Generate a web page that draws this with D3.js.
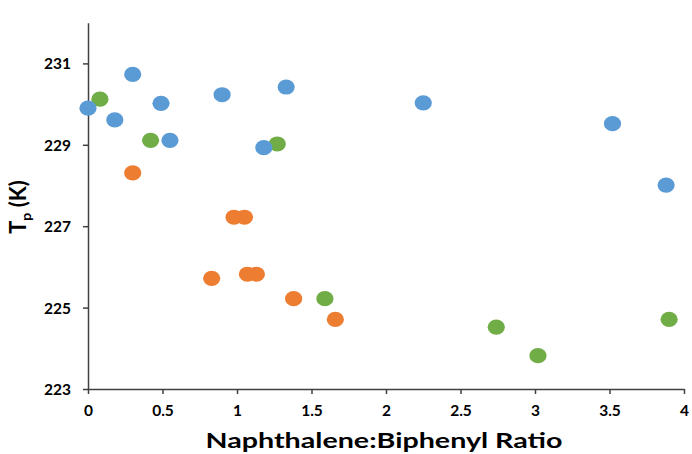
<!DOCTYPE html>
<html>
<head>
<meta charset="utf-8">
<script src="https://cdn.jsdelivr.net/npm/d3@7"></script>
<style>
  html, body { margin: 0; padding: 0; background: #fff; }
  svg { display: block; }
</style>
</head>
<body>
<svg id="chart" width="692" height="454"></svg>
<script>

//--------------------------------------
// DATA
//--------------------------------------

var blueX   = [0, 0.18, 0.30, 0.49, 0.55, 0.90, 1.18, 1.33, 2.25, 3.52, 3.88];
var blueY   = [229.9, 229.61, 230.73, 230.02, 229.11, 230.23, 228.93, 230.42, 230.03, 229.52, 228.01];

var orangeX = [0.30, 0.98, 1.05, 0.83, 1.07, 1.13, 1.38, 1.66];
var orangeY = [228.31, 227.22, 227.22, 225.72, 225.82, 225.82, 225.22, 224.71];

var greenX  = [0.08, 0.42, 1.27, 1.59, 2.74, 3.02, 3.90];
var greenY  = [230.12, 229.11, 229.02, 225.22, 224.52, 223.82, 224.71];

var xTicks = [0, 0.5, 1, 1.5, 2, 2.5, 3, 3.5, 4];
var yTicks = [223, 225, 227, 229, 231];

var xTitle = "Naphthalene:Biphenyl Ratio";


//--------------------------------------
// SETUP
//--------------------------------------

var svg = d3.select("#chart");
var fontFamily = "Lato, 'Liberation Sans', Arial, sans-serif";
var axisColour = "#404040";

var x = d3.scaleLinear().domain([0, 4]).range([88, 684]);
var y = d3.scaleLinear().domain([223, 232]).range([389, 22.7]);

// draw order: green, orange, then blue on top
var series = [
  { xs: greenX,  ys: greenY,  colour: "#70AD47" },
  { xs: orangeX, ys: orangeY, colour: "#ED7D31" },
  { xs: blueX,   ys: blueY,   colour: "#5B9BD5" }
];


_drawAxes();
_drawPoints();
_drawTitles();



function _drawAxes() {

  var xAxis = d3.axisBottom(x).tickValues(xTicks).tickSize(5).tickSizeOuter(0)
    .tickFormat(function(d){ return String(d); });

  var yAxis = d3.axisLeft(y).tickValues(yTicks).tickSize(5).tickSizeOuter(0)
    .tickFormat(d3.format("d"));

  var gx = svg.append("g").attr("transform", "translate(0," + y(223) + ")").call(xAxis);
  var gy = svg.append("g").attr("transform", "translate(" + x(0) + ",0)").call(yAxis);

  [gx, gy].forEach(function(g) {
    g.select(".domain").attr("stroke", axisColour).attr("stroke-width", 1.5);
    g.selectAll(".tick line").attr("stroke", axisColour).attr("stroke-width", 1.5);
    g.selectAll(".tick text")
      .attr("font-family", fontFamily)
      .attr("font-size", 15.5)
      .attr("font-weight", "bold")
      .attr("fill", "#000");
  });

  gx.selectAll(".tick text").attr("dy", null).attr("y", 27);
  gy.selectAll(".tick text").attr("x", -17).attr("dy", "0.36em");

}



function _drawPoints() {

  series.forEach(function(s) {

    var pts = s.xs.map(function(d, i){ return [d, s.ys[i]]; });

    svg.append("g").selectAll("ellipse").data(pts).enter().append("ellipse")
      .attr("cx", function(d){ return x(d[0]); })
      .attr("cy", function(d){ return y(d[1]); })
      .attr("rx", 8.6)
      .attr("ry", 7.6)
      .attr("fill", s.colour);

  });

}



function _drawTitles() {

  var t = svg.append("text")
    .attr("x", 384)
    .attr("y", 448)
    .attr("text-anchor", "middle")
    .attr("font-family", fontFamily)
    .attr("font-size", 21)
    .attr("font-weight", "bold")
    .attr("fill", "#000")
    .text(xTitle);

  // stretch to the width seen in the picture
  t.attr("textLength", 357).attr("lengthAdjust", "spacingAndGlyphs");

  var yl = svg.append("text")
    .attr("transform", "translate(26,207) rotate(-90)")
    .attr("text-anchor", "middle")
    .attr("font-family", fontFamily)
    .attr("font-size", 22)
    .attr("font-weight", "bold")
    .attr("fill", "#000");

  yl.append("tspan").text("T");
  yl.append("tspan").attr("font-size", 14).attr("dy", 5).text("p");
  yl.append("tspan").attr("dy", -5).text(" (K)");

}

</script>
</body>
</html>
